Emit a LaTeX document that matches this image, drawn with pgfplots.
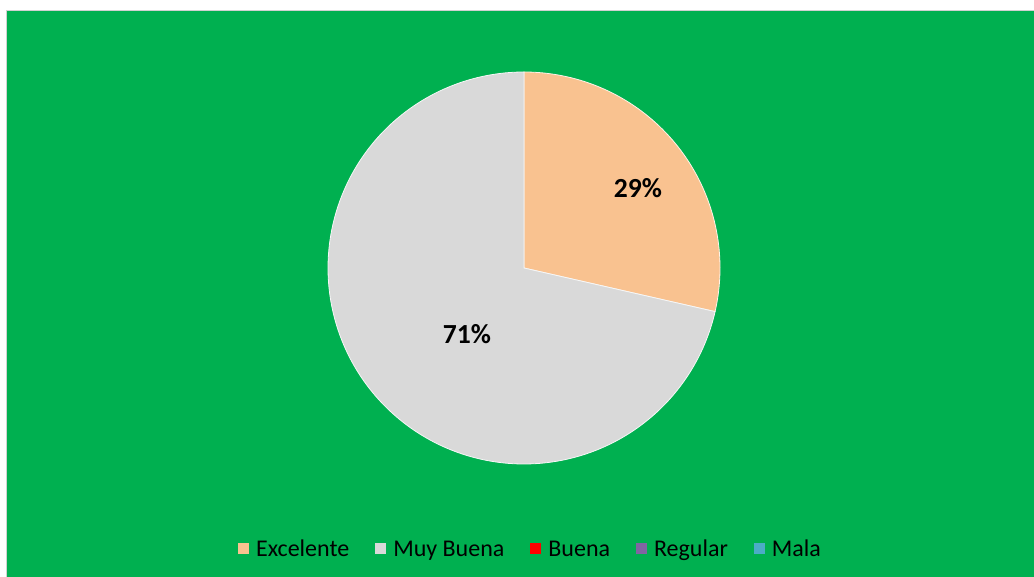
\documentclass[border=0pt]{standalone}
\usepackage{pgfplots}
\pgfplotsset{compat=1.18}
\usepackage{pgfplotstable}
\usepackage{fontspec}
\setmainfont{Carlito}
\definecolor{bg}{HTML}{00B050}
\definecolor{cExc}{HTML}{F9C290}
\definecolor{cMuy}{HTML}{D9D9D9}
\definecolor{cBue}{HTML}{FF0000}
\definecolor{cReg}{HTML}{8064A2}
\definecolor{cMal}{HTML}{4BACC6}
\pgfplotstableread{
name value
Excelente 2
MuyBuena 5
Buena 0
Regular 0
Mala 0
}\datatable
\pgfplotstablegetelem{0}{value}\of\datatable\let\vA\pgfplotsretval
\pgfplotstablegetelem{1}{value}\of\datatable\let\vB\pgfplotsretval
\pgfmathsetmacro\total{\vA+\vB}
\pgfmathsetmacro\aEnd{90-360*\vA/\total}
\pgfmathsetmacro\bEnd{\aEnd-360*\vB/\total}
\begin{document}
\begin{tikzpicture}
\begin{axis}[
  scale only axis, width=775.5pt, height=432.75pt,
  xmin=0, xmax=1034, ymin=0, ymax=577,
  hide axis,
  legend columns=5,
  legend image code/.code={\fill[#1, draw=none] (0pt,2.2pt) rectangle (8.25pt,10.4pt);},
  legend style={draw=none, fill=none, at={(axis cs:529.5,27.5)}, anchor=center,
    font=\fontsize{18}{20}\selectfont, inner sep=0pt,
    nodes={inner sep=0pt, anchor=base west},
    /tikz/every odd column/.append style={column sep=5.25pt},
    /tikz/every even column/.append style={column sep=19.5pt}},
]
\addplot[fill=white, draw=none, forget plot] coordinates {(0,0) (0,577) (1034,577) (1034,0)} -- cycle;
\addplot[fill=bg, draw=black!18, line width=0.75pt, forget plot] coordinates {(6.5,-5) (6.5,566.5) (1040,566.5) (1040,-5)} -- cycle;
\addplot[fill=cExc, draw=white!80!cExc, line width=0.6pt, domain=90:\aEnd, samples=150, variable=\t]
  ({524+196*cos(\t)},{309+196*sin(\t)}) -- (axis cs:524,309) -- cycle;
\addplot[fill=cMuy, draw=white!80!cMuy, line width=0.6pt, domain=\aEnd:\bEnd, samples=300, variable=\t]
  ({524+196*cos(\t)},{309+196*sin(\t)}) -- (axis cs:524,309) -- cycle;
\addlegendimage{fill=cBue}
\addlegendimage{fill=cReg}
\addlegendimage{fill=cMal}
\legend{Excelente, Muy Buena, Buena, Regular, Mala}
\node[font=\bfseries\fontsize{20.7}{24}\selectfont] at (axis cs:638,389) {29\%};
\node[font=\bfseries\fontsize{20.7}{24}\selectfont] at (axis cs:467,243) {71\%};
\end{axis}
\end{tikzpicture}
\end{document}
